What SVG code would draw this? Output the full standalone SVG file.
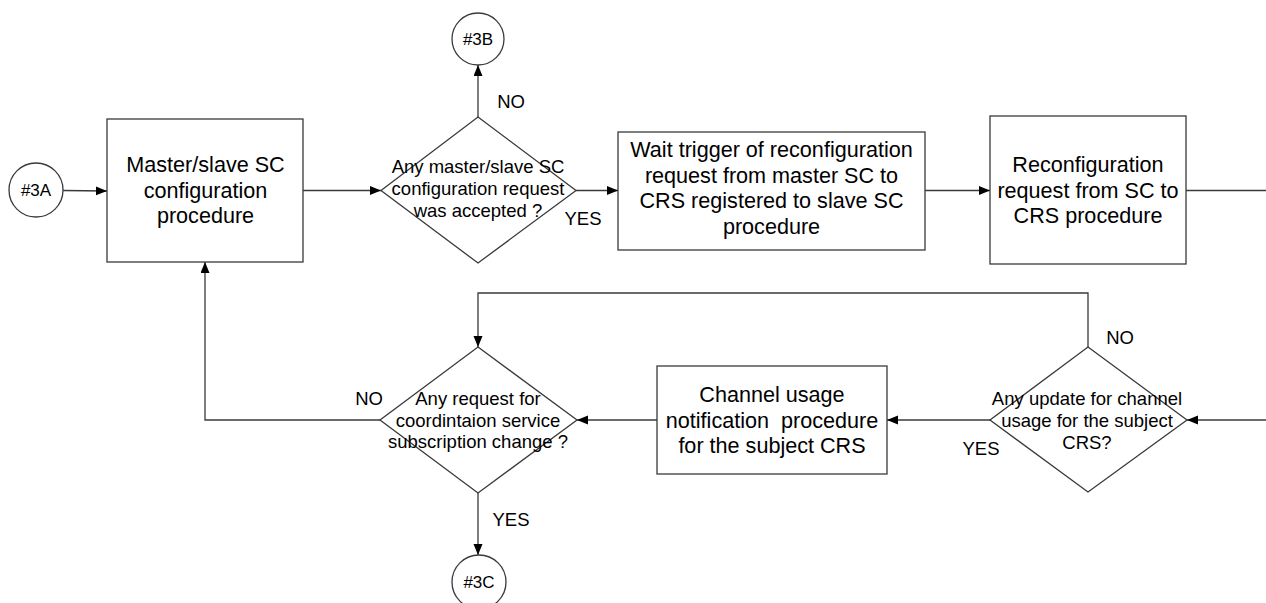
<svg xmlns="http://www.w3.org/2000/svg" width="1266" height="603" viewBox="0 0 1266 603">
<style>
.shape{fill:#fff;stroke:#3a3a3a;stroke-width:1.3}
.conn{fill:none;stroke:#3a3a3a;stroke-width:1.3}
text{font-family:"Liberation Sans",Arial,sans-serif;fill:#000;text-anchor:middle}
.bx{font-size:21.6px}
.dm{font-size:18.5px}
.lb{font-size:18.5px}
.cn{font-size:17px}
</style>
<defs>
<marker id="arr" markerUnits="userSpaceOnUse" markerWidth="12" markerHeight="10" refX="11" refY="4.5" orient="auto">
<path d="M0,0 L11,4.5 L0,9 Z" fill="#000"/>
</marker>
</defs>
<rect width="1266" height="603" fill="#fff"/>
<g id="connectors">
<line class="conn" x1="63" y1="190.5" x2="107" y2="191" marker-end="url(#arr)"/>
<line class="conn" x1="303" y1="190.5" x2="381" y2="190.5" marker-end="url(#arr)"/>
<line class="conn" x1="478" y1="117" x2="478" y2="65" marker-end="url(#arr)"/>
<line class="conn" x1="576" y1="190.5" x2="618" y2="190.5" marker-end="url(#arr)"/>
<line class="conn" x1="925" y1="190.5" x2="990" y2="190.5" marker-end="url(#arr)"/>
<line class="conn" x1="1186" y1="190.5" x2="1266" y2="190.5"/>
<line class="conn" x1="1266" y1="420" x2="1187" y2="420" marker-end="url(#arr)"/>
<polyline class="conn" points="1088,347 1088,293 478,293 478,347" marker-end="url(#arr)"/>
<line class="conn" x1="990" y1="420" x2="887" y2="420" marker-end="url(#arr)"/>
<line class="conn" x1="657" y1="420" x2="577" y2="420" marker-end="url(#arr)"/>
<polyline class="conn" points="380,420 205,420 205,262" marker-end="url(#arr)"/>
<line class="conn" x1="478" y1="493" x2="478" y2="555" marker-end="url(#arr)"/>
<text class="lb" x="511" y="108">NO</text>
<text class="lb" x="583" y="225">YES</text>
<text class="lb" x="1120" y="344">NO</text>
<text class="lb" x="981" y="455">YES</text>
<text class="lb" x="369" y="405">NO</text>
<text class="lb" x="511" y="526">YES</text>
</g>
<g id="n3A">
<circle class="shape" cx="36" cy="190" r="27"/>
<text class="cn" x="36" y="196">#3A</text>
</g>
<g id="box1">
<rect class="shape" x="107" y="119" width="196" height="143"/>
<text class="bx" x="205.5" y="172">Master/slave SC</text>
<text class="bx" x="205.5" y="197.5">configuration</text>
<text class="bx" x="205.5" y="223">procedure</text>
</g>
<g id="dec1">
<polygon class="shape" points="478,117 576,190.5 478,263 381,190.5"/>
<text class="dm" x="478" y="173">Any master/slave SC</text>
<text class="dm" x="478" y="195">configuration request</text>
<text class="dm" x="478" y="217">was accepted ?</text>
</g>
<g id="n3B">
<circle class="shape" cx="478" cy="39" r="26"/>
<text class="cn" x="478" y="45">#3B</text>
</g>
<g id="box2">
<rect class="shape" x="618" y="132" width="307" height="118"/>
<text class="bx" x="771.5" y="157">Wait trigger of reconfiguration</text>
<text class="bx" x="771.5" y="182.5">request from master SC to</text>
<text class="bx" x="771.5" y="208">CRS registered to slave SC</text>
<text class="bx" x="771.5" y="233.5">procedure</text>
</g>
<g id="box3">
<rect class="shape" x="990" y="116" width="196" height="148"/>
<text class="bx" x="1088" y="172">Reconfiguration</text>
<text class="bx" x="1088" y="197.5">request from SC to</text>
<text class="bx" x="1088" y="223">CRS procedure</text>
</g>
<g id="dec3">
<polygon class="shape" points="1088,347 1187,420 1088,492 990,420"/>
<text class="dm" x="1087" y="405">Any update for channel</text>
<text class="dm" x="1087" y="427">usage for the subject</text>
<text class="dm" x="1087" y="449">CRS?</text>
</g>
<g id="box4">
<rect class="shape" x="657" y="366" width="230" height="108"/>
<text class="bx" x="772" y="402">Channel usage</text>
<text class="bx" x="772" y="427.5" xml:space="preserve">notification  procedure</text>
<text class="bx" x="772" y="453">for the subject CRS</text>
</g>
<g id="dec2">
<polygon class="shape" points="478,347 577,420 478,493 380,420"/>
<text class="dm" x="478" y="405">Any request for</text>
<text class="dm" x="478" y="427">coordintaion service</text>
<text class="dm" x="478" y="448">subscription change ?</text>
</g>
<g id="n3C">
<circle class="shape" cx="479" cy="582" r="27"/>
<text class="cn" x="479" y="588">#3C</text>
</g>
</svg>
